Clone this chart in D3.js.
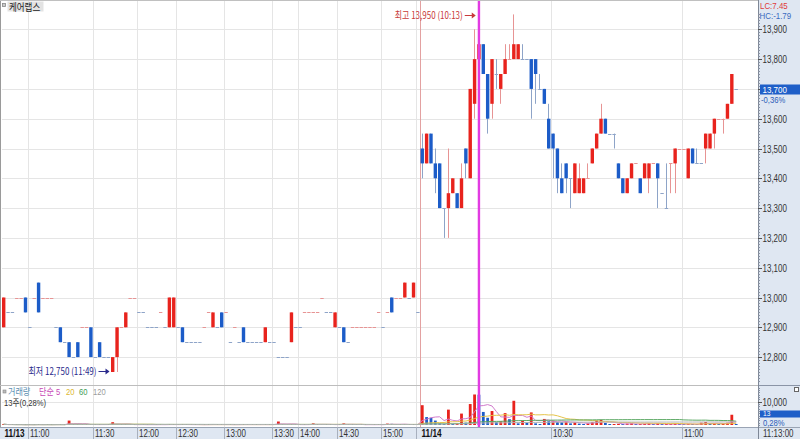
<!DOCTYPE html>
<html><head><meta charset="utf-8">
<script src="https://cdn.jsdelivr.net/npm/d3@7"></script>
<style>
html,body{margin:0;padding:0;background:#fff;overflow:hidden;}
svg{display:block;}
text{font-family:"Liberation Sans","Noto Sans CJK KR",sans-serif;}
.kr{font-family:"Noto Sans CJK KR","Liberation Sans",sans-serif;}
</style></head><body>
<svg id="c" width="800" height="439"></svg>
<script>
// ---------------- DATA ----------------
const stockName = "케어랩스";
// [open, high, low, close] per 1-minute candle, 11/13 (slots 0-95) then 11/14 (slots 96-168)
const candles = [
[12900,13000,12900,13000],[12950,12950,12950,12950],[12950,12950,12950,12950],[13000,13000,13000,13000],
[13000,13000,13000,13000],[13000,13000,12950,12950],[12900,12900,12900,12900],[13000,13000,13000,13000],
[13050,13050,12950,12950],[13000,13000,13000,13000],[13000,13000,13000,13000],[13000,13000,13000,13000],
[12900,12900,12900,12900],[12900,12900,12850,12850],[12850,12850,12850,12850],[12850,12850,12800,12800],
[12800,12800,12800,12800],[12850,12850,12800,12800],[12900,12900,12900,12900],[12900,12900,12900,12900],
[12900,12900,12800,12800],[12800,12800,12800,12800],[12850,12850,12800,12800],[12800,12800,12800,12800],
[12800,12800,12800,12800],[12750,12800,12750,12800],[12800,12900,12750,12900],[12900,12900,12900,12900],
[12900,12950,12900,12950],[13000,13000,13000,13000],[13000,13000,13000,13000],[12950,12950,12950,12950],
[12950,12950,12950,12950],[12900,12900,12900,12900],[12900,12900,12900,12900],[12900,12900,12900,12900],
[12950,12950,12950,12950],[12900,12900,12900,12900],[12900,13000,12900,13000],[12900,13000,12900,13000],
[12900,12900,12900,12900],[12900,12900,12850,12850],[12850,12850,12850,12850],[12850,12850,12850,12850],
[12850,12850,12850,12850],[12850,12850,12850,12850],[12900,12900,12900,12900],[12950,12950,12950,12950],
[12900,12950,12900,12950],[12900,12900,12900,12900],[12950,12950,12900,12900],[12950,12950,12950,12950],
[12850,12850,12850,12850],[12900,12900,12900,12900],[12850,12850,12850,12850],[12900,12900,12850,12850],
[12850,12850,12850,12850],[12850,12850,12850,12850],[12850,12850,12850,12850],[12850,12850,12850,12850],
[12850,12900,12850,12900],[12850,12850,12850,12850],[12850,12850,12850,12850],[12800,12800,12800,12800],
[12800,12800,12800,12800],[12800,12800,12800,12800],[12850,12950,12850,12950],[12900,12900,12900,12900],
[12900,12900,12900,12900],[12950,12950,12950,12950],[12950,12950,12950,12950],[12950,12950,12950,12950],
[12950,12950,12950,12950],[13000,13000,13000,13000],[12950,12950,12950,12950],[12950,12950,12950,12950],
[12900,12950,12900,12950],[12900,12900,12900,12900],[12900,12900,12850,12850],[12850,12850,12850,12850],
[12900,12900,12900,12900],[12900,12900,12900,12900],[12900,12900,12900,12900],[12900,12900,12900,12900],
[12900,12900,12900,12900],[12900,12900,12900,12900],[12950,12950,12950,12950],[12900,12900,12900,12900],
[12950,12950,12950,12950],[13000,13000,12950,12950],[13000,13000,13000,13000],[13000,13000,13000,13000],
[13000,13050,13000,13050],[13000,13000,13000,13000],[13000,13050,13000,13050],[12950,12950,12950,12950],
// 11/14
[13500,13550,13400,13450],[13450,13550,13450,13550],[13550,13550,13450,13450],[13450,13500,13350,13400],
[13450,13450,13300,13300],[13300,13300,13200,13300],[13300,13500,13200,13350],[13350,13400,13350,13400],
[13350,13350,13300,13300],[13300,13450,13300,13400],[13500,13500,13400,13450],[13400,13700,13400,13700],
[13650,13900,13600,13800],[13800,13950,13800,13850],[13850,13850,13750,13750],[13750,13750,13550,13600],
[13650,13800,13600,13800],[13750,13800,13700,13750],[13700,13750,13650,13750],[13750,13850,13750,13800],
[13800,13850,13800,13800],[13800,13950,13800,13850],[13800,13850,13800,13850],[13800,13850,13800,13800],
[13800,13800,13800,13800],[13800,13800,13600,13700],[13800,13800,13650,13750],[13700,13750,13700,13700],
[13700,13700,13650,13650],[13600,13650,13500,13500],[13550,13550,13400,13500],[13500,13500,13350,13400],
[13400,13450,13350,13350],[13450,13450,13350,13400],[13400,13400,13300,13400],[13350,13450,13350,13450],
[13350,13450,13350,13400],[13350,13400,13350,13400],[13400,13450,13400,13400],[13450,13500,13450,13500],
[13500,13550,13500,13550],[13550,13650,13550,13600],[13600,13600,13550,13550],[13550,13550,13550,13550],
[13550,13550,13500,13550],[13450,13450,13400,13400],[13400,13400,13350,13350],[13350,13400,13350,13400],
[13400,13450,13400,13450],[13450,13450,13450,13450],[13400,13400,13350,13350],[13400,13450,13400,13450],
[13400,13450,13350,13450],[13450,13450,13450,13450],[13450,13450,13300,13400],[13350,13350,13350,13350],
[13300,13450,13300,13300],[13450,13450,13350,13450],[13450,13500,13350,13500],[13500,13500,13500,13500],
[13500,13500,13500,13500],[13400,13500,13400,13500],[13500,13500,13450,13450],[13450,13500,13450,13450],
[13450,13450,13450,13450],[13500,13550,13450,13550],[13500,13550,13500,13550],[13550,13600,13500,13600],
[13600,13600,13600,13600],[13600,13600,13550,13600],[13600,13650,13600,13650],[13650,13750,13650,13750],
[13700,13700,13700,13700]
];
const volumes = [
300,100,200,100,200,100,200,100,300,100,200,100,200,300,100,1900,200,300,100,200,
300,100,200,100,300,1200,200,100,300,100,200,100,200,100,200,100,200,100,300,200,
100,300,100,200,100,200,100,200,300,100,200,100,200,100,200,300,100,200,100,200,
300,100,200,1500,200,100,300,100,200,100,200,700,100,200,100,200,300,100,700,100,
200,100,200,100,200,100,200,100,600,500,100,200,300,100,300,200,
8500,3400,3100,1900,700,400,6600,400,700,4900,1000,9000,13100,13000,5600,3100,6000,1200,1600,5100,
2500,10400,700,1900,1000,5400,700,400,2600,1600,1900,1300,1200,1400,700,1300,600,400,700,1300,
1900,2200,900,300,400,500,300,600,700,200,400,500,700,300,700,200,300,400,700,300,
200,500,300,200,1000,1300,500,700,300,500,1000,4400,13
];
const priceTicks = [12800,12900,13000,13100,13200,13300,13400,13500,13600,13700,13800,13900];
const volumeTicks = [10000];
const timeTickSlots  = [0, 6, 21, 31, 40, 51, 62, 68, 77, 87, 95, 126, 156];
const timeTickLabels = ["11/13","11:00","11:30","12:00","12:30","13:00","13:30","14:00","14:30","15:00","11/14","10:30","11:00"];
const dayBreakSlot = 96;
const highMark = {slot:109, price:13950, label:"최고 13,950 (10:13)"};
const lowMark  = {slot:25,  price:12750, label:"최저 12,750 (11:49)"};
const maPeriods = [5, 20, 60, 120];
const lastPrice = 13700, lastChange = "-0,36%";
const lastVolume = "13", lastVolPct = "0,28%";

// ---------------- LAYOUT ----------------
const W=800,H=439, axisX=758, priceBottom=385, volBottom=427;
const step=4.36, plotL=1.52, nSlots=174;
const UP="#e8231d", DN="#1c5cc8", UPL="#e79494", DNL="#8ea4c8";
const svg=d3.select("#c");
const x=d3.scaleBand().domain(d3.range(nSlots)).range([plotL, plotL+nSlots*step]);
const cx=i=>x(i)+x.bandwidth()/2;
const y=d3.scaleLinear().domain([12800,13900]).range([357.1,29.3]);
const yv=d3.scaleLinear().domain([0,10000]).range([425,401.7]);

function label(g,xp,yp,s,o={}){
  const t=g.append("text").attr("transform",`translate(${xp},${yp}) scale(${o.sx||0.8},1)`)
   .attr("font-size",o.size||10).attr("fill",o.fill||"#333").attr("text-anchor",o.anchor||"start")
   .attr("font-weight",o.weight||"normal").text(s);
  if(o.kr) t.attr("class","kr");
  return t;
}

svg.append("rect").attr("width",W).attr("height",H).attr("fill","#fff");
// axis panels
svg.append("rect").attr("x",axisX).attr("y",0).attr("width",W-axisX).attr("height",volBottom).attr("fill","#dfe7f2");
svg.append("rect").attr("x",0).attr("y",volBottom).attr("width",W).attr("height",H-volBottom).attr("fill","#dfe7f2");

const grid=svg.append("g").attr("stroke","#e5e5e5").attr("stroke-width",1);
priceTicks.forEach(v=>grid.append("line").attr("x1",2).attr("x2",axisX).attr("y1",Math.round(y(v))+0.5).attr("y2",Math.round(y(v))+0.5));
volumeTicks.forEach(v=>grid.append("line").attr("x1",2).attr("x2",axisX).attr("y1",Math.round(yv(v))+0.5).attr("y2",Math.round(yv(v))+0.5));
timeTickSlots.forEach((s,k)=>{ if(s===0) return;
  const gx=Math.round(x(s))+0.5;
  grid.append("line").attr("x1",gx).attr("x2",gx).attr("y1",1).attr("y2",volBottom);
});
// frame
svg.append("line").attr("x1",0.5).attr("x2",0.5).attr("y1",0).attr("y2",volBottom).attr("stroke","#9a9a9a");
svg.append("line").attr("x1",0).attr("x2",axisX).attr("y1",0.5).attr("y2",0.5).attr("stroke","#c0c0c0");
svg.append("line").attr("x1",0).attr("x2",axisX).attr("y1",priceBottom+0.5).attr("y2",priceBottom+0.5).attr("stroke","#bdbdbd");
svg.append("line").attr("x1",axisX).attr("x2",W).attr("y1",priceBottom+0.5).attr("y2",priceBottom+0.5).attr("stroke","#8a94a6");
svg.append("line").attr("x1",0).attr("x2",W).attr("y1",volBottom+0.5).attr("y2",volBottom+0.5).attr("stroke","#9aa4b4");
svg.append("line").attr("x1",axisX+0.5).attr("x2",axisX+0.5).attr("y1",0).attr("y2",H).attr("stroke","#7e8796");

// clips
const defs=svg.append("defs");
defs.append("clipPath").attr("id","cp").append("rect").attr("x",1).attr("y",1).attr("width",axisX-1).attr("height",priceBottom-1);
defs.append("clipPath").attr("id","cv").append("rect").attr("x",1).attr("y",priceBottom+1).attr("width",axisX-1).attr("height",volBottom-priceBottom-1);

// day separator
svg.append("line").attr("x1",Math.round(x(dayBreakSlot))+0.5).attr("x2",Math.round(x(dayBreakSlot))+0.5)
  .attr("y1",1).attr("y2",volBottom).attr("stroke","#e3a1a1");

// candles
const cg=svg.append("g").attr("clip-path","url(#cp)");
let prevUp=true;
candles.forEach((d,i)=>{
  const [o,h,l,c]=d; let up;
  if(c>o) up=true; else if(c<o) up=false;
  else { const pc=i>0?candles[i-1][3]:c; up = c>pc ? true : (c<pc ? false : prevUp); }
  prevUp=up;
  const X=cx(i), wx=Math.floor(X)+0.5;
  if(h>l){
    cg.append("line").attr("x1",wx).attr("x2",wx).attr("y1",y(h)).attr("y2",y(l)).attr("stroke",up?UPL:DNL).attr("stroke-width",1);
  }
  if(c!==o){
    cg.append("rect").attr("x",X-1.7).attr("width",3.4).attr("y",y(Math.max(o,c))).attr("height",Math.abs(y(o)-y(c))).attr("fill",up?UP:DN);
  } else {
    cg.append("rect").attr("x",X-1.7).attr("width",3.4).attr("y",Math.round(y(c))).attr("height",1).attr("fill",up?UPL:DNL);
  }
});

// volume bars
const vg=svg.append("g").attr("clip-path","url(#cv)");
volumes.forEach((v,i)=>{
  const up = i>0 ? v>volumes[i-1] : true;
  const top=Math.min(yv(v), yv(0)-1);
  vg.append("rect").attr("x",cx(i)-1.4).attr("width",2.8).attr("y",top).attr("height",yv(0)-top).attr("fill",up?UP:DN);
});
// moving averages of volume
const maColors=["#d27ccd","#e6c44a","#5aa862","#b4b4b4"];
maPeriods.forEach((p,k)=>{
  const ma=volumes.map((v,i)=>d3.mean(volumes.slice(Math.max(0,i-p+1),i+1)));
  vg.append("path").datum(ma).attr("fill","none").attr("stroke",maColors[k]).attr("stroke-width",1)
    .attr("d",d3.line().x((v,i)=>cx(i)).y(v=>yv(v)));
});

// high / low highlight
svg.append("line").attr("x1",cx(highMark.slot)).attr("x2",cx(highMark.slot)).attr("y1",1).attr("y2",volBottom)
  .attr("stroke","#e23be2").attr("stroke-width",2.4);
function arrow(m,color){
  const ay=Math.round(y(m.price))+ (m.price>13000?1.5:-0.5);
  const xe=x(m.slot)-1;
  svg.append("line").attr("x1",xe-11).attr("x2",xe-3).attr("y1",ay).attr("y2",ay).attr("stroke",color).attr("stroke-width",1);
  svg.append("path").attr("d",`M${xe},${ay} L${xe-4},${ay-3} L${xe-4},${ay+3} Z`).attr("fill",color);
  label(svg,xe-13,ay+3.5,m.label,{fill:color,anchor:"end",kr:true,sx:0.8});
}
arrow(highMark,"#c83a3a");
arrow(lowMark,"#2a2a8c");

// right price axis
const ax=svg.append("g");
d3.range(12700,13960,10).forEach(v=>{const yy=Math.round(y(v))+0.5; if(yy<2||yy>priceBottom-1) return;
  ax.append("line").attr("x1",axisX).attr("x2",axisX+2).attr("y1",yy).attr("y2",yy).attr("stroke","#8a93a3");});
priceTicks.forEach(v=>{const yy=Math.round(y(v))+0.5;
  ax.append("line").attr("x1",axisX).attr("x2",axisX+4).attr("y1",yy).attr("y2",yy).attr("stroke","#555");
  if(v!==lastPrice) label(ax,axisX+4.5,yy+3.5,d3.format(",")(v),{fill:"#333"});
});
d3.range(0,17000,1000).forEach(v=>{const yy=Math.round(yv(v))+0.5; if(yy<priceBottom+2) return;
  ax.append("line").attr("x1",axisX).attr("x2",axisX+2).attr("y1",yy).attr("y2",yy).attr("stroke","#8a93a3");});
volumeTicks.forEach(v=>{const yy=Math.round(yv(v))+0.5;
  ax.append("line").attr("x1",axisX).attr("x2",axisX+4).attr("y1",yy).attr("y2",yy).attr("stroke","#555");
  label(ax,axisX+4.5,yy+3.5,d3.format(",")(v),{fill:"#333"});
});
// current price box
const py=Math.round(y(lastPrice));
ax.append("rect").attr("x",axisX+2).attr("y",py-4.5).attr("width",W-axisX-2).attr("height",10).attr("fill","#1f5fc8");
label(ax,axisX+4.5,py+3.5,d3.format(",")(lastPrice),{fill:"#fff",size:9.5,sx:0.84});
label(ax,axisX+3,py+13.6,lastChange,{fill:"#2c5db8",size:9,sx:0.85});
// volume box
ax.append("rect").attr("x",axisX+2).attr("y",410.5).attr("width",W-axisX-2).attr("height",7).attr("fill","#1f5fc8");
label(ax,axisX+5,416.3,lastVolume,{fill:"#fff",size:7,sx:0.95});
label(ax,axisX+5,426.3,lastVolPct,{fill:"#2c5db8",size:9,sx:0.85});
label(ax,axisX+2,8.5,"LC:7.45",{fill:"#e03a3a",size:9,sx:0.88});
label(ax,axisX+1.5,18.5,"HC:-1.79",{fill:"#3a6ac0",size:9,sx:0.88});
ax.append("rect").attr("x",794.5).attr("y",387.5).attr("width",4).attr("height",4).attr("fill","#fff").attr("stroke","#666");

// bottom time axis
const bx=svg.append("g");
timeTickSlots.forEach((s,k)=>{
  const bold=timeTickLabels[k].includes("/");
  const gx=Math.round(x(s))+0.5;
  if(s!==0) bx.append("line").attr("x1",gx).attr("x2",gx).attr("y1",volBottom).attr("y2",H).attr("stroke","#a8b0be");
  const dx = s===0 ? 2 : (bold ? 5 : 1.5);
  label(bx,gx+dx,437,timeTickLabels[k],{fill:bold?"#111":"#333",weight:bold?"bold":"normal",sx:bold?0.82:0.8});
});
label(bx,axisX+5,437,"11:13:00",{fill:"#333"});

// title
svg.append("rect").attr("x",2.5).attr("y",3.5).attr("width",3).attr("height",3).attr("fill","#ccc").attr("stroke","#888").attr("stroke-width",0.8);
svg.append("rect").attr("x",7.5).attr("y",1.5).attr("width",36).attr("height",10).attr("fill","#e3e3e3");
label(svg,9,10.5,stockName,{fill:"#222",kr:true,sx:0.85});

// volume legend
svg.append("rect").attr("x",3).attr("y",390).attr("width",3).attr("height",3).attr("fill","#bbb").attr("stroke","#888").attr("stroke-width",0.6);
label(svg,8,395,"거래량",{fill:"#5b8fb2",sx:0.85,size:9.5});
label(svg,39,395,"단순",{fill:"#c848b6",sx:0.85,size:9.5});
label(svg,56,395,"5",{fill:"#c848b6",size:9.5});
label(svg,66,395,"20",{fill:"#dcb732",size:9.5});
label(svg,79,395,"60",{fill:"#3f9d55",size:9.5});
label(svg,93,395,"120",{fill:"#9a9a9a",size:9.5});
label(svg,4,405.8,"13주(0,28%)",{fill:"#333",sx:0.8,size:9.5});
</script></body></html>
